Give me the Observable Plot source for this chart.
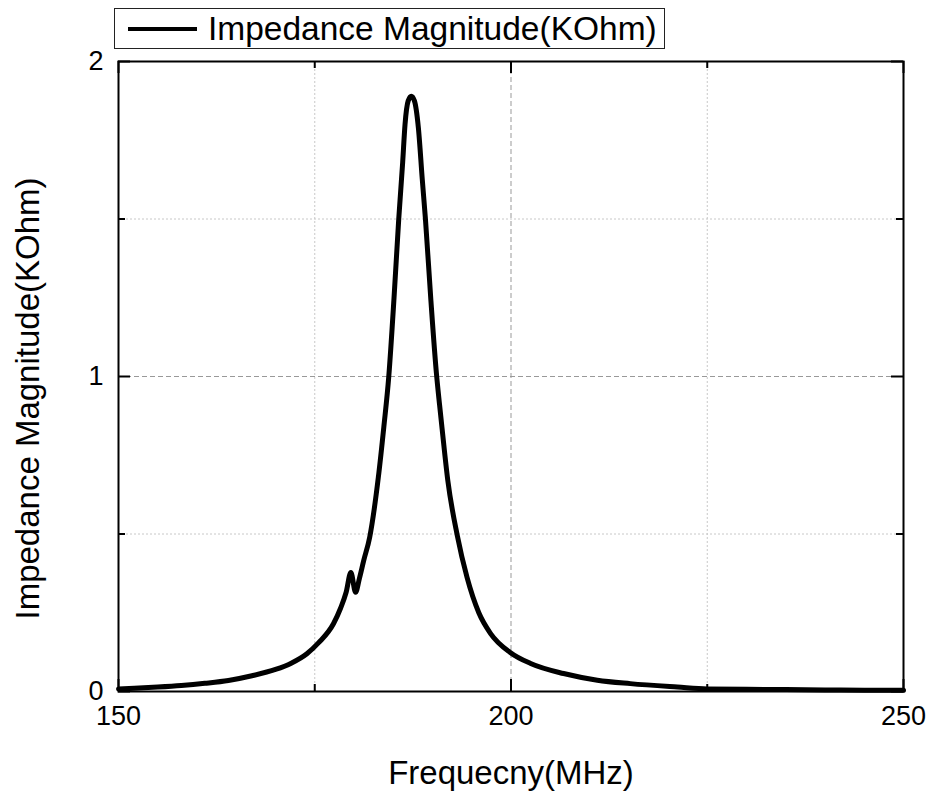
<!DOCTYPE html>
<html>
<head>
<meta charset="utf-8">
<script src="https://cdn.jsdelivr.net/npm/d3@7"></script>
<script src="https://cdn.jsdelivr.net/npm/@observablehq/plot@0.6"></script>
<style>
  html, body { margin: 0; padding: 0; background: #fff; }
  #wrap { position: relative; width: 931px; height: 794px; font-family: "Liberation Sans", Arial, sans-serif; }
  #legend { position: absolute; left: 114px; top: 8px; width: 549px; height: 39px; border: 1px solid #222; background: #fff; display: flex; align-items: center; }
  #legend .sw { width: 69px; height: 4px; background: #000; margin-left: 13px; margin-right: 11px; }
  #legend .tx { font-size: 33.5px; color: #000; line-height: 1; white-space: nowrap; }
</style>
</head>
<body>
<div id="wrap">
  <div id="chart"></div>
  <div id="legend"><div class="sw"></div><div class="tx">Impedance Magnitude(KOhm)</div></div>
</div>
<script>
const seriesName = "Impedance Magnitude(KOhm)";
const xLabel = "Frequecny(MHz)";
const yLabel = "Impedance Magnitude(KOhm)";
const xMajorTicks = [150, 200, 250];
const xMinorTicks = [175, 225];
const yMajorTicks = [0, 1, 2];
const yMinorTicks = [0.5, 1.5];

const freq = [150, 152, 155, 158, 161, 164, 167, 170, 172, 174, 175.5, 177.4, 178.3, 179, 179.6, 180.2, 180.7, 181.25, 182, 183.1, 183.8, 184.43, 185.1, 185.7, 186.2, 186.5, 186.9, 187.3, 187.7, 188.2, 188.7, 189.1, 189.8, 190.5, 190.9, 191.24, 191.95, 193.15, 194.4, 195.9, 197.4, 199.9, 202.5, 206.7, 211, 215.2, 221.2, 225, 230, 235, 240, 245, 250];
const mag = [0.008, 0.01, 0.014, 0.019, 0.026, 0.035, 0.05, 0.07, 0.09, 0.12, 0.155, 0.216, 0.265, 0.315, 0.378, 0.315, 0.36, 0.417, 0.49, 0.68, 0.84, 1.0, 1.25, 1.5, 1.68, 1.8, 1.875, 1.89, 1.875, 1.79, 1.625, 1.5, 1.24, 1.01, 0.91, 0.83, 0.67, 0.496, 0.362, 0.25, 0.184, 0.124, 0.089, 0.057, 0.036, 0.025, 0.014, 0.008, 0.007, 0.006, 0.005, 0.004, 0.004];

const data = freq.map((f, i) => ({f, v: mag[i]}));
const fontFam = "'Liberation Sans', Arial, sans-serif";

const W = 931, H = 794, ML = 118, MR = 28, MT = 61, MB = 103;
const frameW = W - ML - MR, frameH = H - MT - MB;
const majorLen = 12, minorLen = 7;

const chart = Plot.plot({
  width: W,
  height: H,
  marginLeft: ML,
  marginRight: MR,
  marginTop: MT,
  marginBottom: MB,
  style: { fontFamily: fontFam, background: "#fff", color: "#000", overflow: "visible" },
  x: { domain: [150, 250] },
  y: { domain: [0, 2] },
  marks: [
    Plot.gridX(xMinorTicks, { stroke: "#c8c8c8", strokeOpacity: 1, strokeDasharray: "2,2" }),
    Plot.gridX([200], { stroke: "#999", strokeOpacity: 1, strokeDasharray: "5,3" }),
    Plot.gridY(yMinorTicks, { stroke: "#c8c8c8", strokeOpacity: 1, strokeDasharray: "2,2" }),
    Plot.gridY([1], { stroke: "#999", strokeOpacity: 1, strokeDasharray: "5,3" }),
    // inward ticks on all four sides
    Plot.tickX(xMajorTicks, { x: d => d, insetTop: frameH - majorLen, stroke: "#000", strokeWidth: 2 }),
    Plot.tickX(xMinorTicks, { x: d => d, insetTop: frameH - minorLen, stroke: "#000", strokeWidth: 2 }),
    Plot.tickX(xMajorTicks, { x: d => d, insetBottom: frameH - majorLen, stroke: "#000", strokeWidth: 2 }),
    Plot.tickX(xMinorTicks, { x: d => d, insetBottom: frameH - minorLen, stroke: "#000", strokeWidth: 2 }),
    Plot.tickY(yMajorTicks, { y: d => d, insetRight: frameW - majorLen, stroke: "#000", strokeWidth: 2 }),
    Plot.tickY(yMinorTicks, { y: d => d, insetRight: frameW - minorLen, stroke: "#000", strokeWidth: 2 }),
    Plot.tickY(yMajorTicks, { y: d => d, insetLeft: frameW - majorLen, stroke: "#000", strokeWidth: 2 }),
    Plot.tickY(yMinorTicks, { y: d => d, insetLeft: frameW - minorLen, stroke: "#000", strokeWidth: 2 }),
    // labels
    Plot.axisX(xMajorTicks, { anchor: "bottom", tickSize: 0, tickPadding: 14, fontSize: 27, tickFormat: "d", label: xLabel, labelAnchor: "center", labelArrow: false, labelOffset: 92 }),
    Plot.axisY(yMajorTicks, { anchor: "left", tickSize: 0, tickPadding: 15, fontSize: 27, tickFormat: "d", label: yLabel, labelAnchor: "center", labelArrow: false, labelOffset: 103 }),
    Plot.frame({ stroke: "#000", strokeWidth: 2 }),
    Plot.line(data, { x: "f", y: "v", stroke: "#000", strokeWidth: 5, strokeLinejoin: "round", strokeLinecap: "round", curve: "monotone-x" })
  ]
});
document.getElementById("chart").appendChild(chart);
chart.querySelectorAll("g[aria-label='x-axis label'], g[aria-label='y-axis label']").forEach(g => {
  g.setAttribute("font-size", 33);
  g.querySelectorAll("text").forEach(t => t.setAttribute("font-size", 33));
});
chart.querySelectorAll("g[aria-label='y-axis label']").forEach(g => {
  g.setAttribute("transform", ((g.getAttribute("transform") || "") + " translate(0,22)").trim());
});
</script>
</body>
</html>
